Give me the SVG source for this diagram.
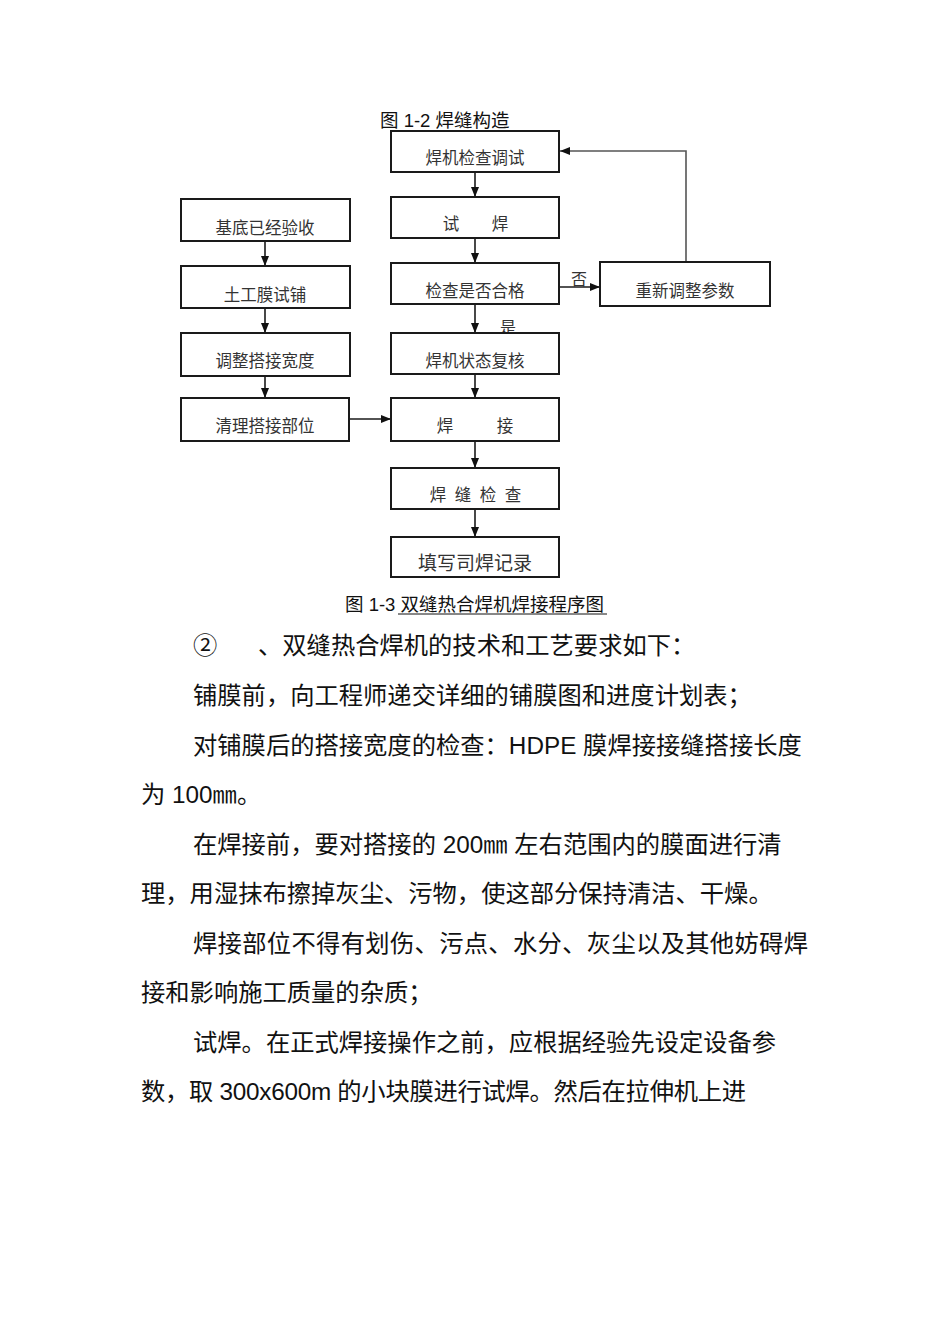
<svg xmlns="http://www.w3.org/2000/svg" width="950" height="1344" viewBox="0 0 950 1344">
<style>
.bg{fill:#ffffff}
.box{fill:#ffffff;stroke:#1a1a1a;stroke-width:2}
.bt{font-family:"Noto Sans CJK SC",sans-serif;font-size:16.5px;fill:#333333;text-anchor:middle}
.cap{font-family:"Liberation Sans","Noto Sans CJK SC",sans-serif;font-size:18.5px;fill:#111111}
.lbl{font-family:"Noto Sans CJK SC",sans-serif;font-size:16px;fill:#333333}
.body{font-family:"Liberation Sans","Noto Sans CJK SC",sans-serif;font-size:24.3px;fill:#111111}
.ln{stroke:#1a1a1a;stroke-width:1.6;fill:none}
.ln2{stroke:#555555;stroke-width:1.6;fill:none}
</style>
<defs>
<marker id="ah" markerWidth="10" markerHeight="8" refX="10" refY="4" orient="auto" markerUnits="userSpaceOnUse">
<path d="M0,0 L10,4 L0,8 Z" fill="#111111"/>
</marker>
</defs>
<rect class="bg" x="0" y="0" width="950" height="1344"/>

<text class="cap" x="380" y="127">图 1-2 焊缝构造</text>

<g id="connectors">
<line class="ln" x1="475" y1="172" x2="475" y2="197" marker-end="url(#ah)"/>
<line class="ln" x1="475" y1="238" x2="475" y2="263" marker-end="url(#ah)"/>
<line class="ln" x1="475" y1="304" x2="475" y2="333" marker-end="url(#ah)"/>
<line class="ln" x1="475" y1="374" x2="475" y2="398" marker-end="url(#ah)"/>
<line class="ln" x1="475" y1="441" x2="475" y2="468" marker-end="url(#ah)"/>
<line class="ln" x1="475" y1="509" x2="475" y2="537" marker-end="url(#ah)"/>
<line class="ln" x1="265" y1="241" x2="265" y2="266" marker-end="url(#ah)"/>
<line class="ln" x1="265" y1="308" x2="265" y2="333" marker-end="url(#ah)"/>
<line class="ln" x1="265" y1="376" x2="265" y2="398" marker-end="url(#ah)"/>
<line class="ln" x1="349" y1="419" x2="391" y2="419" marker-end="url(#ah)"/>
<line class="ln" x1="559" y1="287" x2="600" y2="287" marker-end="url(#ah)"/>
<polyline class="ln2" points="686,262 686,151 560,151" marker-end="url(#ah)"/>
<text class="lbl" x="571" y="285">否</text>
<text class="lbl" x="500" y="333">是</text>
</g>

<g id="n1"><rect class="box" x="391" y="131" width="168" height="41"/><text class="bt" x="475" y="164">焊机检查调试</text></g>
<g id="n2"><rect class="box" x="391" y="197" width="168" height="41"/><text class="bt" x="451" y="230">试</text><text class="bt" x="500" y="230">焊</text></g>
<g id="n3"><rect class="box" x="391" y="263" width="168" height="41"/><text class="bt" x="475" y="297">检查是否合格</text></g>
<g id="n4"><rect class="box" x="600" y="262" width="170" height="44"/><text class="bt" x="685" y="297">重新调整参数</text></g>
<g id="n5"><rect class="box" x="181" y="199" width="169" height="42"/><text class="bt" x="265" y="234">基底已经验收</text></g>
<g id="n6"><rect class="box" x="181" y="266" width="169" height="42"/><text class="bt" x="265" y="301">土工膜试铺</text></g>
<g id="n7"><rect class="box" x="181" y="333" width="169" height="43"/><text class="bt" x="265" y="367">调整搭接宽度</text></g>
<g id="n8"><rect class="box" x="181" y="398" width="168" height="43"/><text class="bt" x="265" y="432">清理搭接部位</text></g>
<g id="n9"><rect class="box" x="391" y="333" width="168" height="41"/><text class="bt" x="475" y="367">焊机状态复核</text></g>
<g id="n10"><rect class="box" x="391" y="398" width="168" height="43"/><text class="bt" x="445" y="432">焊</text><text class="bt" x="505" y="432">接</text></g>
<g id="n11"><rect class="box" x="391" y="468" width="168" height="41"/><text class="bt" x="438" y="501">焊</text><text class="bt" x="463" y="501">缝</text><text class="bt" x="488" y="501">检</text><text class="bt" x="513" y="501">查</text></g>
<g id="n12"><rect class="box" x="391" y="537" width="168" height="40"/><text class="bt" x="475" y="570" style="font-size:19px">填写司焊记录</text></g>

<text class="cap" x="345" y="611">图 1-3 双缝热合焊机焊接程序图</text>
<line x1="398" y1="614" x2="607" y2="614" stroke="#111111" stroke-width="1"/>

<g id="body">
<text class="body" x="193" y="654">②</text>
<text class="body" x="258" y="654">、双缝热合焊机的技术和工艺要求如下：</text>
<text class="body" x="193" y="704">铺膜前，向工程师递交详细的铺膜图和进度计划表；</text>
<text class="body" x="193" y="754">对铺膜后的搭接宽度的检查：HDPE 膜焊接接缝搭接长度</text>
<text class="body" x="141" y="803">为 100㎜。</text>
<text class="body" x="193" y="853">在焊接前，要对搭接的 200㎜ 左右范围内的膜面进行清</text>
<text class="body" x="141" y="902">理，用湿抹布擦掉灰尘、污物，使这部分保持清洁、干燥。</text>
<text class="body" x="193" y="952" textLength="615" lengthAdjust="spacing">焊接部位不得有划伤、污点、水分、灰尘以及其他妨碍焊</text>
<text class="body" x="141" y="1001">接和影响施工质量的杂质；</text>
<text class="body" x="193" y="1051">试焊。在正式焊接操作之前，应根据经验先设定设备参</text>
<text class="body" x="141" y="1100" textLength="605" lengthAdjust="spacing">数，取 300x600m 的小块膜进行试焊。然后在拉伸机上进</text>
</g>
</svg>
